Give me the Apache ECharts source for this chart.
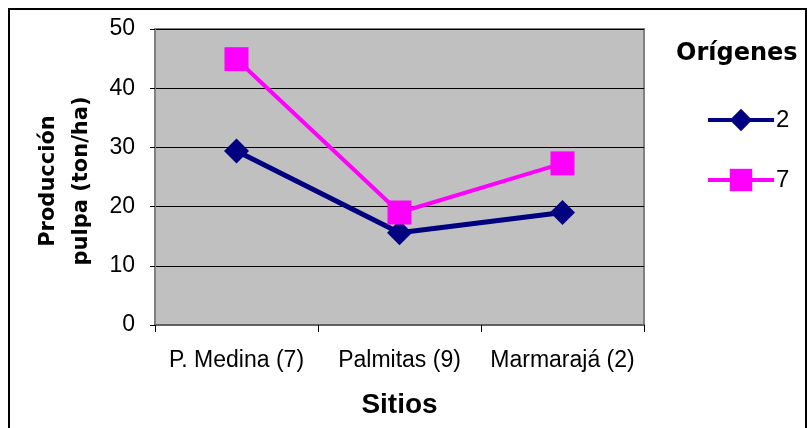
<!DOCTYPE html>
<html>
<head>
<meta charset="utf-8">
<script src="https://cdn.jsdelivr.net/npm/echarts@6/dist/echarts.min.js"></script>
<style>
html,body{margin:0;padding:0;background:#fff;}
#chart{width:809px;height:428px;}
</style>
</head>
<body>
<div id="chart"></div>
<script>
const categories = ['P. Medina (7)', 'Palmitas (9)', 'Marmarajá (2)'];
const series2 = [29.4, 15.6, 19.0];
const series7 = [44.9, 19.0, 27.3];
const seriesNames = ['2', '7'];
const yTicks = { min: 0, max: 50, interval: 10 };

const FONT = 'Liberation Sans';
const chart = echarts.init(document.getElementById('chart'), null, { renderer: 'canvas' });
chart.setOption({
  backgroundColor: '#ffffff',
  animation: false,
  grid: {
    left: 155, top: 29, right: 165, bottom: 103,
    show: true, backgroundColor: '#c0c0c0', borderColor: '#808080', borderWidth: 2
  },
  xAxis: {
    type: 'category',
    data: categories,
    boundaryGap: true,
    axisLine: { lineStyle: { color: '#606060', width: 2 } },
    axisTick: { show: true, length: 7, inside: false, lineStyle: { color: '#000' } },
    axisLabel: { color: '#000', fontFamily: FONT, fontSize: 23, margin: 24, interval: 0 },
    name: 'Sitios',
    nameLocation: 'middle',
    nameGap: 66,
    nameTextStyle: { color: '#000', fontFamily: FONT, fontWeight: 'bold', fontSize: 28 }
  },
  yAxis: {
    type: 'value',
    min: yTicks.min, max: yTicks.max, interval: yTicks.interval,
    axisLine: { show: true, lineStyle: { color: '#808080', width: 2 } },
    axisTick: { show: true, length: 5, lineStyle: { color: '#000' } },
    axisLabel: { color: '#000', fontFamily: FONT, fontSize: 23, margin: 20 },
    splitLine: { show: true, lineStyle: { color: '#000', width: 1 } }
  },
  legend: {
    orient: 'vertical',
    left: 701, top: 103,
    itemWidth: 66, itemHeight: 28, itemGap: 36,
    data: [
      { name: seriesNames[0], lineStyle: { width: 4 } },
      { name: seriesNames[1], lineStyle: { width: 4 } }
    ],
    textStyle: { color: '#000', fontFamily: FONT, fontSize: 24, padding: [0, 0, 0, -3] }
  },
  graphic: [
    {
      type: 'rect', silent: true,
      shape: { x: 9, y: 9, width: 797, height: 440 },
      style: { fill: 'none', stroke: '#000', lineWidth: 2 }
    },
    {
      type: 'text', silent: true,
      left: 676, top: 42,
      style: { text: 'Orígenes', fill: '#000', font: 'bold 24px "DejaVu Sans"' }
    },
    {
      type: 'text', silent: true,
      x: 65, y: 181, rotation: Math.PI / 2,
      style: {
        text: 'Producción\npulpa (ton/ha)',
        fill: '#000', font: 'bold 21px "DejaVu Sans"',
        align: 'center', verticalAlign: 'middle', lineHeight: 33
      }
    }
  ],
  series: [
    {
      name: seriesNames[0], type: 'line', data: series2,
      symbol: 'diamond', symbolSize: 25,
      lineStyle: { color: '#000080', width: 5 },
      itemStyle: { color: '#000080' }
    },
    {
      name: seriesNames[1], type: 'line', data: series7,
      symbol: 'rect', symbolSize: 24,
      lineStyle: { color: '#ff00ff', width: 4 },
      itemStyle: { color: '#ff00ff' }
    }
  ]
});
</script>
</body>
</html>
